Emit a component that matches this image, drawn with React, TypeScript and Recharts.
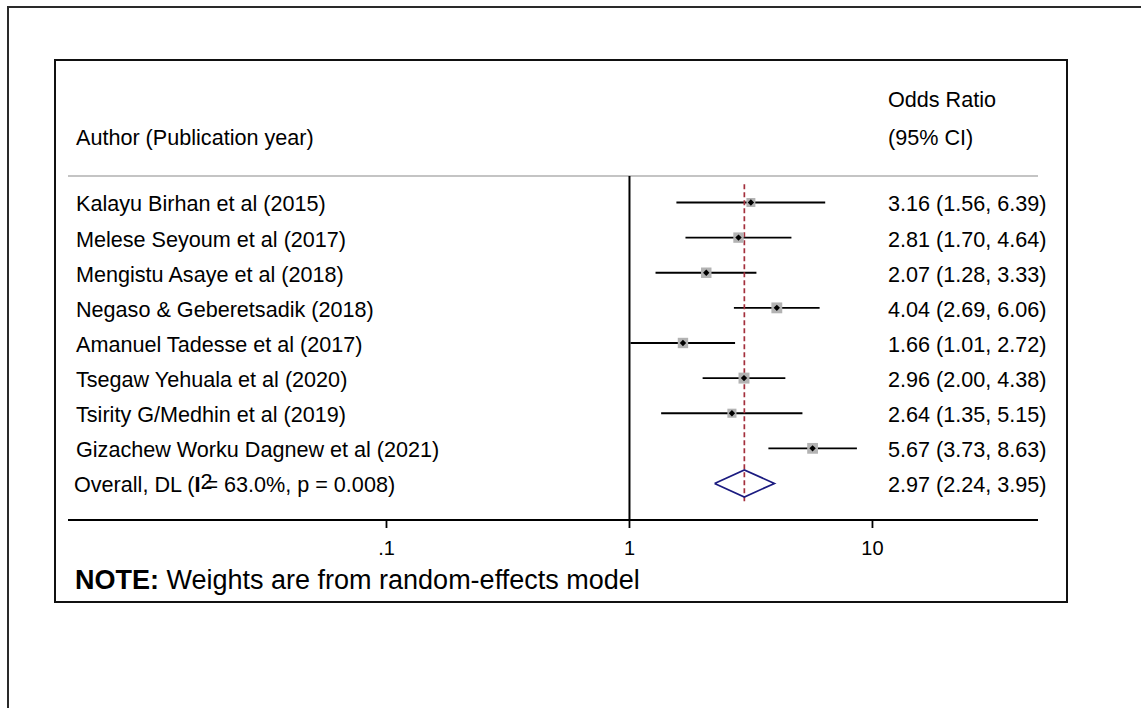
import React from "react";
import {
  ComposedChart,
  XAxis,
  YAxis,
  Scatter,
  ReferenceLine,
} from "recharts";

// ---------- data ----------
const authors = [
  "Kalayu Birhan et al (2015)",
  "Melese Seyoum et al (2017)",
  "Mengistu Asaye et al (2018)",
  "Negaso & Geberetsadik (2018)",
  "Amanuel Tadesse et al (2017)",
  "Tsegaw Yehuala et al (2020)",
  "Tsirity G/Medhin et al (2019)",
  "Gizachew Worku Dagnew et al (2021)",
];
const oddsRatios = [3.16, 2.81, 2.07, 4.04, 1.66, 2.96, 2.64, 5.67];
const lowerCI = [1.56, 1.7, 1.28, 2.69, 1.01, 2.0, 1.35, 3.73];
const upperCI = [6.39, 4.64, 3.33, 6.06, 2.72, 4.38, 5.15, 8.63];
const weights = [9.5, 12.8, 13.0, 14.0, 12.8, 14.3, 9.8, 13.8];

const overallOR = 2.97;
const overallLower = 2.24;
const overallUpper = 3.95;
const overallI2 = "63.0%";
const overallP = "0.008";

const xTicks = [0.1, 1, 10];
const xTickLabels = [".1", "1", "10"];

// ---------- layout constants ----------
const FONT = "'Liberation Sans', Arial, Helvetica, sans-serif";
const FS = 21.6;
const ROW_HEADER_TOP = -2.97;
const ROW_HEADER = -1.88;
const ROW_RULE = -0.754;
const Y_DOMAIN: [number, number] = [-4, 9.04];
const X_DOMAIN: [number, number] = [0.00489, 48.0];
const overallRow = authors.length;
const DIAMOND_HALF = 0.384;

const fmt = (v: number) => v.toFixed(2);
const ciText = (o: number, l: number, u: number) =>
  `${fmt(o)} (${fmt(l)}, ${fmt(u)})`;

const studies = authors.map((a, i) => ({
  x: oddsRatios[i],
  y: i,
  lo: lowerCI[i],
  hi: upperCI[i],
  w: weights[i],
}));

const diamond = [
  { x: overallLower, y: overallRow },
  { x: overallOR, y: overallRow - DIAMOND_HALF },
  { x: overallUpper, y: overallRow },
  { x: overallOR, y: overallRow + DIAMOND_HALF },
  { x: overallLower, y: overallRow },
];

// label columns anchored at the plot edges (domain ends)
const leftLabels = [
  { x: X_DOMAIN[0], y: ROW_HEADER, kind: "text", text: "Author (Publication year)" },
  ...authors.map((a, i) => ({ x: X_DOMAIN[0], y: i, kind: "text", text: a })),
  { x: X_DOMAIN[0], y: overallRow, kind: "overall", text: "" },
];
const rightLabels = [
  { x: X_DOMAIN[1], y: ROW_HEADER_TOP, text: "Odds Ratio" },
  { x: X_DOMAIN[1], y: ROW_HEADER, text: "(95% CI)" },
  ...authors.map((_, i) => ({
    x: X_DOMAIN[1],
    y: i,
    text: ciText(oddsRatios[i], lowerCI[i], upperCI[i]),
  })),
  { x: X_DOMAIN[1], y: overallRow, text: ciText(overallOR, overallLower, overallUpper) },
];

// ---------- shapes ----------
const LeftLabel = (props: any) => {
  const { cx, cy, payload } = props;
  if (cx == null || cy == null) return <g />;
  const tx = cx + 8;
  const ty = cy + 9;
  if (payload.kind === "overall") {
    return (
      <text x={tx - 2} y={ty} fontSize={FS} fill="#000" fontFamily={FONT}>
        <tspan>Overall, DL (</tspan>
        <tspan fontWeight="bold">I</tspan>
        <tspan dy={-3.5}>2</tspan>
        <tspan dx={-7} dy={3.5}>{`= ${overallI2}, p = ${overallP})`}</tspan>
      </text>
    );
  }
  return (
    <text x={tx} y={ty} fontSize={FS} fill="#000" fontFamily={FONT}>
      {payload.text}
    </text>
  );
};

const RightLabel = (props: any) => {
  const { cx, cy, payload } = props;
  if (cx == null || cy == null) return <g />;
  return (
    <text x={cx - 150} y={cy + 9} fontSize={FS} fill="#000" fontFamily={FONT}>
      {payload.text}
    </text>
  );
};

const StudyMarker = (props: any) => {
  const { cx, cy, payload } = props;
  if (cx == null || cy == null) return <g />;
  const s = 2.9 * Math.sqrt(payload.w);
  const d = 3.2;
  return (
    <g>
      <rect x={cx - s / 2} y={cy - s / 2} width={s} height={s} fill="#b3b3b3" />
      <polygon
        points={`${cx - d},${cy} ${cx},${cy - d} ${cx + d},${cy} ${cx},${cy + d}`}
        fill="#000"
      />
    </g>
  );
};

const XTick = (props: any) => {
  const { x, y, payload } = props;
  const i = xTicks.indexOf(payload.value);
  return (
    <text
      x={x}
      y={y}
      dy="0.71em"
      textAnchor="middle"
      fontSize={20}
      fill="#000"
      fontFamily={FONT}
    >
      {i >= 0 ? xTickLabels[i] : String(payload.value)}
    </text>
  );
};

const NoShape = () => <g />;

export default function App() {
  return (
    <div
      style={{
        position: "absolute",
        left: 0,
        top: 0,
        width: 1141,
        height: 708,
        overflow: "hidden",
        background: "#fff",
        fontFamily: FONT,
      }}
    >
      {/* outer frame */}
      <div
        style={{
          position: "absolute",
          left: 7,
          top: 6,
          width: 1300,
          height: 900,
          border: "2px solid #2a2a2a",
          boxSizing: "border-box",
        }}
      />
      {/* inner frame */}
      <div
        style={{
          position: "absolute",
          left: 54,
          top: 59,
          width: 1014,
          height: 544,
          border: "2px solid #111",
          boxSizing: "border-box",
        }}
      />
      <div
        style={{
          position: "absolute",
          left: 75,
          top: 567,
          fontSize: 27,
          lineHeight: "27px",
          color: "#000",
          whiteSpace: "nowrap",
          fontFamily: FONT,
        }}
      >
        <b>NOTE:</b> Weights are from random-effects model
      </div>
      <div style={{ position: "absolute", left: 0, top: 0 }}>
        <ComposedChart
          width={1141}
          height={708}
          margin={{ top: 62, right: 103, bottom: 148, left: 68 }}
          style={{ fontFamily: FONT, overflow: "visible" }}
        >
          <XAxis
            type="number"
            dataKey="x"
            scale="log"
            domain={X_DOMAIN}
            ticks={xTicks}
            interval={0}
            height={40}
            axisLine={{ stroke: "#000", strokeWidth: 2 }}
            tickLine={{ stroke: "#000", strokeWidth: 1.8 }}
            tickSize={8}
            tickMargin={12.5}
            tick={<XTick />}
          />
          <YAxis
            yAxisId="left"
            type="number"
            dataKey="y"
            domain={Y_DOMAIN}
            reversed
            width={0}
            hide
          />
          <YAxis
            yAxisId="right"
            orientation="right"
            type="number"
            dataKey="y"
            domain={Y_DOMAIN}
            reversed
            width={0}
            hide
          />
          <ReferenceLine
            yAxisId="left"
            y={ROW_RULE}
            stroke="#c4c4c4"
            strokeWidth={2}
            ifOverflow="visible"
          />
          <ReferenceLine
            yAxisId="left"
            segment={[
              { x: 1, y: ROW_RULE },
              { x: 1, y: Y_DOMAIN[1] },
            ]}
            stroke="#000"
            strokeWidth={2}
            ifOverflow="visible"
          />
          {studies.map((s, i) => (
            <ReferenceLine
              key={`ci-${i}`}
              yAxisId="left"
              segment={[
                { x: s.lo, y: s.y },
                { x: s.hi, y: s.y },
              ]}
              stroke="#000"
              strokeWidth={1.8}
              ifOverflow="visible"
            />
          ))}
          <ReferenceLine
            yAxisId="left"
            segment={[
              { x: overallOR, y: -0.52 },
              { x: overallOR, y: overallRow + 0.52 },
            ]}
            stroke="#a32f3c"
            strokeWidth={1.7}
            strokeDasharray="5 3"
            ifOverflow="visible"
          />
          <Scatter
            yAxisId="left"
            data={studies}
            shape={<StudyMarker />}
            isAnimationActive={false}
          />
          <Scatter
            yAxisId="right"
            data={diamond}
            line={{ stroke: "#1b1b80", strokeWidth: 1.7 }}
            lineType="joint"
            shape={<NoShape />}
            fill="none"
            isAnimationActive={false}
          />
          <Scatter
            yAxisId="left"
            data={leftLabels}
            shape={<LeftLabel />}
            isAnimationActive={false}
          />
          <Scatter
            yAxisId="right"
            data={rightLabels}
            shape={<RightLabel />}
            isAnimationActive={false}
          />
        </ComposedChart>
      </div>
    </div>
  );
}
